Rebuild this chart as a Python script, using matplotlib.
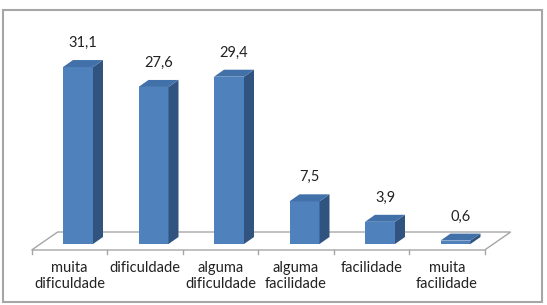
import numpy as np
import matplotlib
matplotlib.use("Agg")
import matplotlib.pyplot as plt
from matplotlib.patches import Polygon, Rectangle

categorias = ["muita\ndificuldade", "dificuldade", "alguma\ndificuldade",
              "alguma\nfacilidade", "facilidade", "muita\nfacilidade"]
valores = [31.1, 27.6, 29.4, 7.5, 3.9, 0.6]
rotulos = ["31,1", "27,6", "29,4", "7,5", "3,9", "0,6"]

plt.rcParams['font.family'] = ['Lato', 'DejaVu Sans']

W, H = 547, 305
fig = plt.figure(figsize=(W / 100, H / 100), dpi=100)
ax = fig.add_axes([0, 0, 1, 1])
ax.set_axis_off()

# escala: 75.5 px por categoria, 5.69 px por unidade
px_x = 1 / 75.5
px_y = 1 / 5.69
ax.set_xlim(-78 * px_x, (W - 78) * px_x)
ax.set_ylim(-(H - 244) * px_y, 244 * px_y)

frente = '#4F81BD'
lado = '#30547F'
topo = '#4271AA'
cinza = '#A6A6A6'

# profundidade (em pixels)
bdx, bdy = 10 * px_x, 7 * px_y          # barra
f0x, f0y = -8.6 * px_x, -6 * px_y        # borda frontal do piso
f1x, f1y = 17.4 * px_x, 12 * px_y        # borda de tras do piso

n = len(valores)
x = np.arange(n)
larg = 30 * px_x

# piso
xa, xb = -0.5, n - 0.5
piso = [(xa + f0x, f0y), (xb + f0x, f0y), (xb + f1x, f1y), (xa + f1x, f1y)]
ax.add_patch(Polygon(piso, closed=True, fill=False, edgecolor=cinza, lw=1.0))
for i in range(n + 1):
    ax.plot([i - 0.5 + f0x] * 2, [f0y, f0y - 4 * px_y], color=cinza, lw=1.0)

# barras
ax.bar(x, valores, width=larg, color=frente, edgecolor='none', zorder=3)
for xi, v in zip(x, valores):
    l, r = xi - larg / 2, xi + larg / 2
    ax.add_patch(Polygon([(r, 0), (r + bdx, bdy), (r + bdx, v + bdy), (r, v)],
                         closed=True, facecolor=lado, edgecolor='none', zorder=3))
    ax.add_patch(Polygon([(l, v), (r, v), (r + bdx, v + bdy), (l + bdx, v + bdy)],
                         closed=True, facecolor=topo, edgecolor='none', zorder=3))

for xi, v, t in zip(x, valores, rotulos):
    ax.annotate(t, (xi + bdx / 2, v), xytext=(0, 24), textcoords='offset pixels',
                ha='center', va='center', fontsize=10.5, color='#222222')

for i, c in enumerate(categorias):
    ax.text(i + f0x, f0y - 11 * px_y, c, ha='center', va='top', fontsize=10.5,
            color='#222222', linespacing=1.15)

# moldura
x0, y0 = 3 * px_x - 78 * px_x, (244 - 302) * px_y
ax.add_patch(Rectangle((x0, y0), (542 - 3) * px_x, (302 - 10) * px_y,
                       fill=False, edgecolor=cinza, lw=1.5, clip_on=False))

fig.savefig("out.png", dpi=100)
